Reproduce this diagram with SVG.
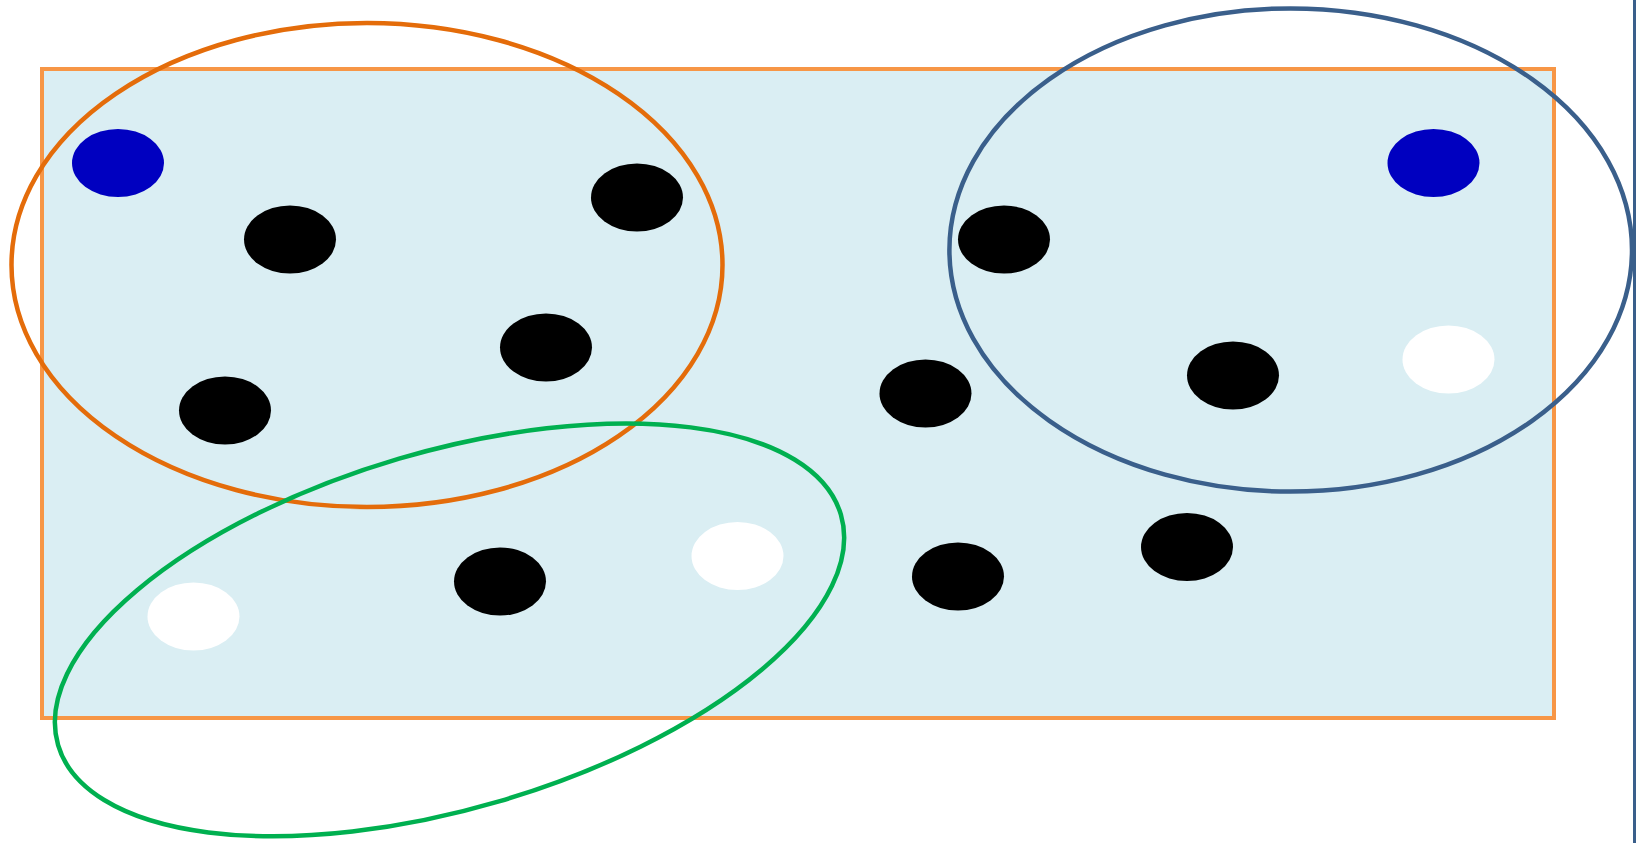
<svg xmlns="http://www.w3.org/2000/svg" width="1637" height="843" viewBox="0 0 1637 843">
<style>
.dot{stroke:none}
.blk{fill:#000000}
.blu{fill:#0000C0}
.wht{fill:#FFFFFF}
.grp{fill:none;stroke-width:4.5}
</style>
<rect width="1637" height="843" fill="#FFFFFF"/>
<g id="field">
<rect x="42" y="69" width="1512" height="649" fill="#DAEEF3" stroke="#F79646" stroke-width="4"/>
</g>
<g id="dots">
<ellipse id="n1" class="dot blu" cx="118" cy="163" rx="46" ry="34"/>
<ellipse id="n2" class="dot blk" cx="290" cy="239.5" rx="46" ry="34"/>
<ellipse id="n3" class="dot blk" cx="637" cy="197.5" rx="46" ry="34"/>
<ellipse id="n4" class="dot blk" cx="546" cy="347.5" rx="46" ry="34"/>
<ellipse id="n5" class="dot blk" cx="225" cy="410.5" rx="46" ry="34"/>
<ellipse id="n6" class="dot wht" cx="193.5" cy="616.5" rx="46" ry="34"/>
<ellipse id="n7" class="dot blk" cx="500" cy="581.5" rx="46" ry="34"/>
<ellipse id="n8" class="dot wht" cx="737.5" cy="556" rx="46" ry="34"/>
<ellipse id="n9" class="dot blk" cx="925.5" cy="393.5" rx="46" ry="34"/>
<ellipse id="n10" class="dot blk" cx="1004" cy="239.5" rx="46" ry="34"/>
<ellipse id="n11" class="dot blk" cx="1233" cy="375.5" rx="46" ry="34"/>
<ellipse id="n12" class="dot blu" cx="1433.5" cy="163" rx="46" ry="34"/>
<ellipse id="n13" class="dot wht" cx="1448.5" cy="359.5" rx="46" ry="34"/>
<ellipse id="n14" class="dot blk" cx="958" cy="576.5" rx="46" ry="34"/>
<ellipse id="n15" class="dot blk" cx="1187" cy="547" rx="46" ry="34"/>
</g>
<g id="groups">
<ellipse id="g-orange" class="grp" stroke="#E46C0A" cx="367" cy="265" rx="355.5" ry="242"/>
<ellipse id="g-blue" class="grp" stroke="#3A5F8B" cx="1290.7" cy="250" rx="341.3" ry="241.6"/>
<ellipse id="g-green" class="grp" stroke="#00B050" cx="449.5" cy="629.9" rx="408" ry="178.5" transform="rotate(-16.4 449.5 629.9)"/>
</g>
<line x1="1634.5" y1="0" x2="1634.5" y2="843" stroke="#3A5F8B" stroke-width="3"/>
</svg>
